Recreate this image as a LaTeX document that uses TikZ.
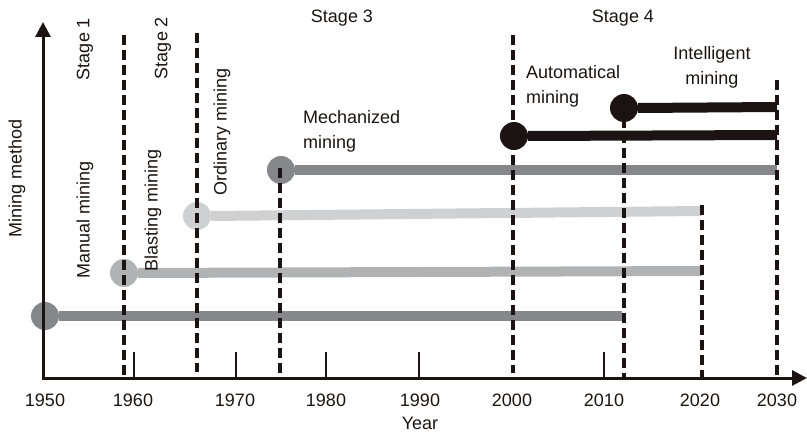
\documentclass[tikz,border=0pt]{standalone}
\usepackage{fontspec}
\setmainfont{Liberation Sans}
\usetikzlibrary{arrows.meta}
\definecolor{ink}{HTML}{1C1414}
\definecolor{gMid}{HTML}{86878A}
\definecolor{gLight}{HTML}{B1B2B4}
\definecolor{gPale}{HTML}{CFD0D2}
\begin{document}
\begin{tikzpicture}[x=1pt,y=-1pt,
  lbl/.style={font=\fontsize{18}{25}\selectfont, inner sep=0pt, text=ink},
  vlbl/.style={lbl, rotate=90},
  stagedash/.style={line width=4.5pt, dash pattern=on 10pt off 5pt, draw=ink},
  bar/.style={line width=10pt},
  dot/.style={circle, minimum size=28pt, inner sep=0pt, draw=none, fill=#1},
  axisline/.style={line width=3pt, draw=ink, -{Triangle[length=15pt,width=15pt]}},
  tickmark/.style={line width=2.5pt, draw=ink}]
\path[use as bounding box] (0,0) rectangle (807,433);

% method bars with start dots
\node[dot=gMid] (m1) at (45,316) {};
\coordinate (e1) at (622,316);
\draw[bar,gMid] (m1.east) -- (e1);

\node[dot=gLight] (m2) at (124,273) {};
\coordinate (e2) at (702,271);
\draw[bar,gLight] (m2.east) -- (e2);

\node[dot=gPale] (m3) at (197,216) {};
\coordinate (e3) at (702,211);
\draw[bar,gPale] (m3.east) -- (e3);

\node[dot=gMid] (m4) at (281,170) {};
\coordinate (e4) at (777,170);
\draw[bar,gMid] (m4.east) -- (e4);

\node[dot=ink] (m5) at (514,136) {};
\coordinate (e5) at (777,135);
\draw[bar,ink] (m5.east) -- (e5);

\node[dot=ink] (m6) at (624,108) {};
\coordinate (e6) at (777,107);
\draw[bar,ink] (m6.east) -- (e6);

% stage dashed lines
\coordinate (d1t) at (124,35);  \coordinate (d1b) at (124,378);
\coordinate (d2t) at (197,33);  \coordinate (d2b) at (197,372);
\coordinate (d3t) at (280,168); \coordinate (d3b) at (280,378);
\coordinate (d4t) at (513,35);  \coordinate (d4b) at (513,373);
\coordinate (d5t) at (624,118); \coordinate (d5b) at (624,378);
\coordinate (d6t) at (702,205); \coordinate (d6b) at (702,378);
\coordinate (d7t) at (777,80);  \coordinate (d7b) at (777,378);
\foreach \i in {1,...,7} {\draw[stagedash] (d\i t) -- (d\i b);}

% axes
\coordinate (o) at (43,378);
\coordinate (ytop) at (43,22);
\coordinate (xend) at (807,378);
\draw[axisline] (o) -- (ytop);
\draw[axisline] ([xshift=-1.5pt]o) -- (xend);

% ticks
\foreach \x in {134,236,326,419,604} {
  \coordinate (tt\x) at (\x,352); \coordinate (tb\x) at (\x,378);
  \draw[tickmark] (tt\x) -- (tb\x);
}

% year labels
\foreach \x/\t in {45/1950,133/1960,235/1970,326/1980,420/1990,512/2000,604/2010,700/2020,777/2030} {
  \node[lbl] (y\t) at (\x,400) {\t};
}
\node[lbl, anchor=base] (year) at (420,429) {Year};
\node[vlbl] (ylab) at (17,178) {Mining method};

% stage labels
\node[vlbl] (st1) at (85,49) {Stage 1};
\node[vlbl] (st2) at (163,48) {Stage 2};
\node[lbl] (st3) at (342,18) {Stage 3};
\node[lbl] (st4) at (623,18) {Stage 4};

% method labels
\node[vlbl] (lman) at (85,220) {Manual mining};
\node[vlbl] (lbla) at (153,210) {Blasting mining};
\node[vlbl] (lord) at (222,132) {Ordinary mining};
\node[lbl, align=left, anchor=west] (lmec) at (303,131) {Mechanized\\mining};
\node[lbl, align=left, anchor=west] (laut) at (526,86) {Automatical\\mining};
\node[lbl, align=center] (lint) at (712,67) {Intelligent\\mining};
\end{tikzpicture}
\end{document}
